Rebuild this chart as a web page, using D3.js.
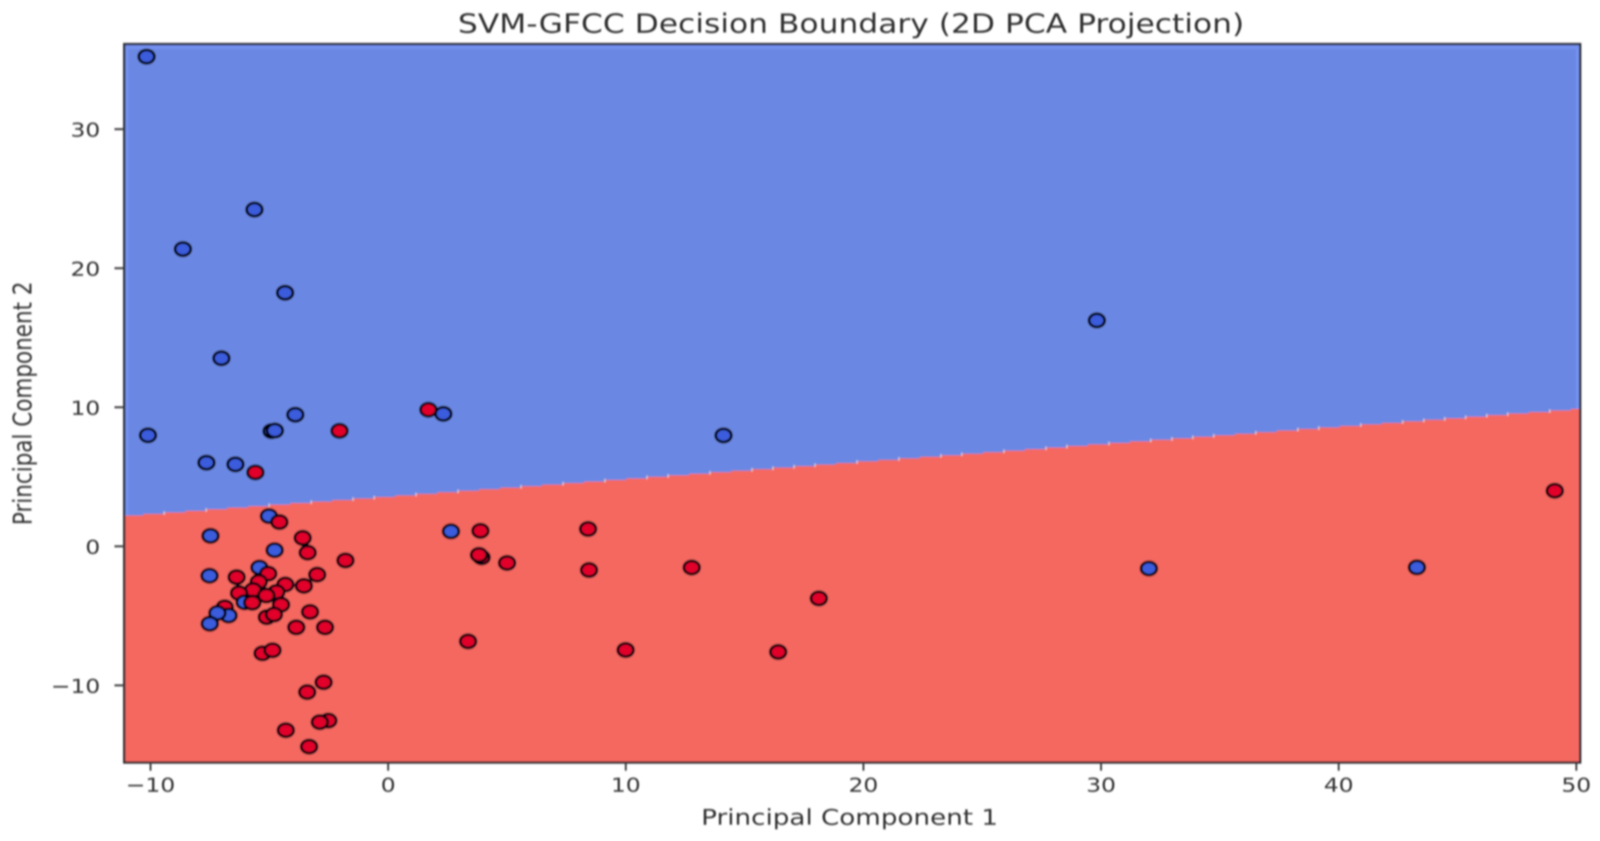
<!DOCTYPE html>
<html lang="en">
  <head>
    <meta charset="utf-8" />
    <script src="https://d3js.org/d3.v7.min.js"></script>
    <style>
      html,
      body {
        margin: 0;
        height: 100%;
        overflow: hidden;
        background: #fff;
      }
      svg {
        display: block;
      }
      text {
        font-family: "DejaVu Sans", sans-serif;
        fill: #333;
      }
    </style>
  </head>

  <body>
    <svg id="chart"></svg>

    <script>
      // labels
      var chartTitle = "SVM-GFCC Decision Boundary (2D PCA Projection)";
      var xLabel = "Principal Component 1";
      var yLabel = "Principal Component 2";
      var xTicks = [-10, 0, 10, 20, 30, 40, 50];
      var yTicks = [-10, 0, 10, 20, 30];

      // scatter points, listed in drawing order
      var pcX = [
        -10.16, -5.62, -8.63, -4.33, -7.01, -3.9, -4.9, -4.76, -2.04, -10.1,
        -7.64, -6.42, -5.58, 1.7, 2.33, 29.83, 14.12, 32.02, 43.3, 49.1,
        2.65, 3.89, 8.42, 3.94, 3.83, 5.01, 8.46, 12.78, 18.13, 3.37, 10.0,
        16.42, -5.01, -4.57, -7.47, -3.59, -4.77, -3.38, -1.79, -5.41, -7.51,
        -5.04, -2.98, -6.37, -5.44, -4.32, -3.54, -4.7, -5.68, -6.27, -5.12,
        -6.03, -5.71, -4.5, -6.87, -3.28, -6.71, -7.18, -5.1, -4.8, -7.5,
        -3.86, -2.65, -5.28, -4.86, -2.71, -3.4, -2.51, -2.87, -4.3, -3.32
      ];
      var pcY = [
        35.2, 24.2, 21.36, 18.22, 13.51, 9.45, 8.27, 8.31, 8.29, 7.97,
        6.0, 5.88, 5.3, 9.81, 9.51, 16.23, 7.96, -1.61, -1.53, 3.98,
        1.06, 1.1, 1.23, -0.81, -0.63, -1.21, -1.72, -1.54, -3.76, -6.85, -7.47,
        -7.61, 2.16, 1.73, 0.74, 0.59, -0.29, -0.47, -1.03, -1.54, -2.13,
        -1.98, -2.05, -2.23, -2.57, -2.76, -2.86, -3.3, -3.16, -3.38, -3.55,
        -4.04, -4.07, -4.21, -4.4, -4.73, -4.99, -4.81, -5.11, -4.92, -5.58,
        -5.84, -5.84, -7.71, -7.49, -9.79, -10.5, -12.55, -12.66, -13.24, -14.42
      ];
      // 0 = blue class, 1 = red class
      var pcClass = [
        0, 0, 0, 0, 0, 0, 0, 0, 1, 0,
        0, 0, 1, 1, 0, 0, 0, 0, 0, 1,
        0, 1, 1, 1, 1, 1, 1, 1, 1, 1, 1,
        1, 0, 1, 0, 1, 0, 1, 1, 0, 0,
        1, 1, 1, 1, 1, 1, 1, 1, 1, 1,
        0, 1, 1, 1, 1, 0, 0, 1, 1, 0,
        1, 1, 1, 1, 1, 1, 1, 1, 1, 1
      ];

      // decision boundary stair steps, read along the edge between the regions
      var boundaryX = [
        -11.1, -10.3, -9.42, -8.53, -7.65, -6.77, -5.88, -5.0, -4.12, -3.23,
        -2.35, -1.47, -0.58, 0.3, 1.18, 2.07, 2.95, 3.83, 4.72, 5.6, 6.48,
        7.37, 8.25, 9.13, 10.02, 10.9, 11.79, 12.67, 13.55, 14.44, 15.32,
        16.2, 17.09, 17.97, 18.85, 19.74, 20.62, 21.5, 22.39, 23.27, 24.15,
        25.04, 25.92, 26.8, 27.69, 28.57, 29.45, 30.34, 31.22, 32.1, 32.99,
        33.87, 34.75, 35.64, 36.52, 37.4, 38.29, 39.17, 40.05, 40.94, 41.82,
        42.7, 43.59, 44.47, 45.35, 46.24, 47.12, 48.0, 48.89, 49.77, 50.17
      ];
      var boundaryY = [
        2.2, 2.31, 2.42, 2.53, 2.64, 2.76, 2.87, 2.98, 3.09, 3.2,
        3.31, 3.42, 3.53, 3.64, 3.75, 3.87, 3.98, 4.09, 4.2, 4.31, 4.42,
        4.53, 4.64, 4.75, 4.86, 4.98, 5.09, 5.2, 5.31, 5.42, 5.53,
        5.64, 5.75, 5.86, 5.97, 6.09, 6.2, 6.31, 6.42, 6.53, 6.64,
        6.75, 6.86, 6.97, 7.08, 7.2, 7.31, 7.42, 7.53, 7.64, 7.75,
        7.86, 7.97, 8.08, 8.19, 8.31, 8.42, 8.53, 8.64, 8.75, 8.86,
        8.97, 9.08, 9.19, 9.3, 9.42, 9.53, 9.64, 9.75, 9.86, 9.86
      ];
      // pale specks left at some of the steps
      var speckX = [
        -9.42, -7.65, -5.0, -3.23, -1.47, -0.58, 1.18, 2.95, 5.6, 7.37, 9.13,
        10.9, 11.79, 13.55, 15.32, 16.2, 17.09, 17.97, 19.74, 21.5, 23.27,
        24.15, 25.92, 27.69, 28.57, 30.34, 32.1, 32.99, 33.87, 34.75, 36.52,
        38.29, 39.17, 40.94, 42.7, 43.59, 44.47, 45.35, 46.24, 47.12, 48.89
      ];

      var blueRegion = "#6a88e3";
      var redRegion = "#f56861";
      var edgeGlow = "#7492f3";
      var pointFill = ["#3a5cdc", "#e2062c"];

      // the source picture is stretched sideways, text and dots follow that
      var stretch = 1.25;

      var chartW = 4277,
        chartH = 2153;
      var left = 332,
        right = 4224,
        top_ = 113,
        bottom = 1952;

      var x = d3.scaleLinear().domain([-11.1, 50.17]).range([left, right]);
      var y = d3.scaleLinear().domain([36.1, -15.56]).range([top_, bottom]);

      // the browser window can come out narrower than asked, so fill what is there
      var svg = d3
        .select("#chart")
        .attr("width", window.innerWidth)
        .attr("height", window.innerHeight)
        .attr("viewBox", "0 0 " + chartW + " " + chartH)
        .attr("preserveAspectRatio", "none");

      var defs = svg.append("defs");
      defs
        .append("filter")
        .attr("id", "soft")
        .attr("filterUnits", "userSpaceOnUse")
        .attr("x", 0)
        .attr("y", 0)
        .attr("width", chartW)
        .attr("height", chartH)
        .append("feGaussianBlur")
        .attr("stdDeviation", 2.4);

      var root = svg.append("g").attr("filter", "url(#soft)");

      // regions
      root
        .append("rect")
        .attr("x", left)
        .attr("y", top_)
        .attr("width", right - left)
        .attr("height", bottom - top_)
        .attr("fill", redRegion);

      var boundary = d3.range(boundaryX.length).map(function (i) {
        return { x: boundaryX[i], y: boundaryY[i] };
      });

      var blueArea = d3
        .area()
        .curve(d3.curveStepAfter)
        .x(function (d) {
          return x(d.x);
        })
        .y0(top_)
        .y1(function (d) {
          return y(d.y);
        });

      root
        .append("path")
        .attr("d", blueArea(boundary))
        .attr("fill", blueRegion);

      // lighter band just inside the frame on the blue side
      root
        .append("path")
        .attr(
          "d",
          "M" + (left + 7) + "," + y(boundaryY[0]) +
            "V" + (top_ + 8) +
            "H" + (right - 7) +
            "V" + y(boundaryY[boundaryY.length - 1])
        )
        .attr("fill", "none")
        .attr("stroke", edgeGlow)
        .attr("stroke-width", 8);

      root
        .selectAll(".speck")
        .data(speckX)
        .enter()
        .append("line")
        .attr("class", "speck")
        .attr("x1", function (d) {
          return x(d);
        })
        .attr("x2", function (d) {
          return x(d);
        })
        .attr("y1", function (d) {
          var i = d3.bisectRight(boundaryX, d) - 1;
          return y(boundaryY[i]) - 3;
        })
        .attr("y2", function (d) {
          var i = d3.bisectRight(boundaryX, d) - 1;
          return y(boundaryY[i]) + 6;
        })
        .attr("stroke", "#ead2d2")
        .attr("stroke-width", 4.5)
        .attr("stroke-opacity", 0.75);

      // points
      root
        .selectAll(".point")
        .data(pcX)
        .enter()
        .append("ellipse")
        .attr("class", "point")
        .attr("cx", function (d) {
          return x(d);
        })
        .attr("cy", function (d, i) {
          return y(pcY[i]);
        })
        .attr("rx", 21)
        .attr("ry", 17)
        .attr("fill", function (d, i) {
          return pointFill[pcClass[i]];
        })
        .attr("stroke", "#05050c")
        .attr("stroke-width", 7.5);

      // frame
      root
        .append("rect")
        .attr("x", left)
        .attr("y", top_)
        .attr("width", right - left)
        .attr("height", bottom - top_)
        .attr("fill", "none")
        .attr("stroke", "#2a2a30")
        .attr("stroke-width", 6);

      // axes
      var xAxis = root
        .append("g")
        .attr("transform", "translate(0," + bottom + ")")
        .call(
          d3.axisBottom(x).tickValues(xTicks).tickSize(21).tickSizeOuter(0)
        );
      var yAxis = root
        .append("g")
        .attr("transform", "translate(" + left + ",0)")
        .call(d3.axisLeft(y).tickValues(yTicks).tickSize(26).tickSizeOuter(0));

      xAxis.select(".domain").remove();
      yAxis.select(".domain").remove();

      svg
        .selectAll(".tick line")
        .attr("stroke", "#3a3a3a")
        .attr("stroke-width", 5);

      xAxis
        .selectAll(".tick text")
        .attr("font-size", 50)
        .attr("dy", 0)
        .attr("y", 0)
        .attr("dominant-baseline", "central")
        .attr("transform", "translate(0,58) scale(" + stretch + ",1)");

      yAxis
        .selectAll(".tick text")
        .attr("font-size", 50)
        .attr("dy", 0)
        .attr("x", 0)
        .attr("dominant-baseline", "central")
        .attr("transform", "translate(-64,2) scale(" + stretch + ",1)");

      // title and axis labels
      root
        .append("text")
        .attr("text-anchor", "middle")
        .attr("dominant-baseline", "central")
        .attr("font-size", 67)
        .attr(
          "transform",
          "translate(" + ((left + right) / 2 - 3) + ",60) scale(" + stretch + ",1)"
        )
        .text(chartTitle);

      root
        .append("text")
        .attr("text-anchor", "middle")
        .attr("dominant-baseline", "central")
        .attr("font-size", 56)
        .attr(
          "transform",
          "translate(" + ((left + right) / 2 - 7) + ",2092) scale(" + stretch + ",1)"
        )
        .text(xLabel);

      root
        .append("text")
        .attr("text-anchor", "middle")
        .attr("dominant-baseline", "central")
        .attr("font-size", 55)
        .attr(
          "transform",
          "translate(60," +
            (top_ + bottom) / 2 +
            ") scale(" +
            stretch +
            ",1) rotate(-90)"
        )
        .text(yLabel);
    </script>
  </body>
</html>
